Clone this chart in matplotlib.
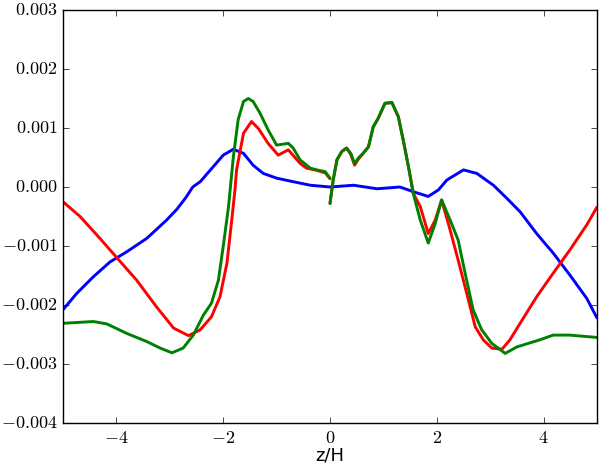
import matplotlib
matplotlib.use("Agg")
import matplotlib.pyplot as plt
from matplotlib.ticker import FuncFormatter, MultipleLocator
import numpy as np

plt.style.use('classic')
plt.rcParams['mathtext.fontset'] = 'cm'

# Values in units of 1e-3
# Blue curve
blue_x = [-5.0, -4.74, -4.43, -4.12, -3.81, -3.43, -3.06, -2.87, -2.70, -2.57, -2.43,
          -2.19, -2.0, -1.81, -1.62, -1.44, -1.25, -1.0, -0.69, -0.37, 0.0,
          0.44, 0.88, 1.31, 1.56, 1.84, 2.03, 2.19, 2.50, 2.75, 3.06, 3.31,
          3.56, 3.87, 4.18, 4.49, 4.81, 5.0]
blue_y = [-2.08, -1.80, -1.52, -1.27, -1.10, -0.87, -0.56, -0.38, -0.18, 0.0, 0.09,
          0.34, 0.54, 0.64, 0.57, 0.37, 0.23, 0.15, 0.09, 0.03, 0.0,
          0.03, -0.03, 0.0, -0.08, -0.16, -0.05, 0.12, 0.29, 0.23, 0.03, -0.19,
          -0.42, -0.79, -1.12, -1.49, -1.89, -2.22]

# Red curve (left and right of z=0)
red_xl = [-5.0, -4.68, -4.31, -3.99, -3.62, -3.25, -2.93, -2.65, -2.43, -2.22,
          -2.06, -1.93, -1.84, -1.78, -1.75, -1.62, -1.47, -1.34, -1.16, -0.97,
          -0.78, -0.56, -0.44, -0.28, -0.09, 0.0]
red_yl = [-0.25, -0.50, -0.87, -1.20, -1.58, -2.03, -2.39, -2.52, -2.42, -2.20,
          -1.86, -1.29, -0.56, -0.05, 0.29, 0.91, 1.11, 0.99, 0.74, 0.54,
          0.63, 0.40, 0.32, 0.29, 0.24, 0.14]
red_xr = [0.0, 0.06, 0.13, 0.22, 0.31, 0.39, 0.46, 0.53, 0.62, 0.72, 0.81, 0.90,
          1.03, 1.16, 1.28, 1.37, 1.47, 1.56, 1.69, 1.84, 1.97, 2.09, 2.25, 2.40,
          2.56, 2.72, 2.87, 3.03, 3.22, 3.37, 3.56, 3.87, 4.18, 4.49, 4.81, 5.0]
red_yr = [-0.28, 0.12, 0.46, 0.60, 0.66, 0.55, 0.37, 0.47, 0.57, 0.68, 1.02, 1.16,
          1.42, 1.43, 1.19, 0.80, 0.34, -0.11, -0.33, -0.79, -0.56, -0.22, -0.73, -1.24,
          -1.80, -2.37, -2.59, -2.73, -2.75, -2.59, -2.31, -1.86, -1.46, -1.07, -0.64, -0.34]

# Green curve (left and right of z=0)
green_xl = [-5.0, -4.43, -4.18, -3.81, -3.43, -3.18, -2.96, -2.75, -2.56, -2.37,
            -2.22, -2.09, -2.0, -1.90, -1.81, -1.72, -1.62, -1.53, -1.44, -1.31,
            -1.16, -1.0, -0.78, -0.69, -0.56, -0.37, -0.25, -0.09, 0.0]
green_yl = [-2.31, -2.28, -2.32, -2.48, -2.62, -2.73, -2.81, -2.73, -2.51, -2.17,
            -1.97, -1.58, -1.01, -0.33, 0.51, 1.14, 1.45, 1.50, 1.45, 1.25,
            0.97, 0.71, 0.74, 0.66, 0.46, 0.32, 0.29, 0.26, 0.15]
green_xr = [0.0, 0.06, 0.13, 0.22, 0.31, 0.39, 0.46, 0.53, 0.62, 0.72, 0.81, 0.90,
            1.03, 1.16, 1.28, 1.37, 1.47, 1.56, 1.69, 1.84, 1.97, 2.09, 2.25, 2.40,
            2.53, 2.68, 2.84, 3.03, 3.28, 3.50, 3.75, 3.93, 4.18, 4.49, 5.0]
green_yr = [-0.28, 0.12, 0.46, 0.60, 0.66, 0.57, 0.40, 0.49, 0.57, 0.68, 1.02, 1.16,
            1.42, 1.43, 1.19, 0.80, 0.34, -0.11, -0.56, -0.95, -0.62, -0.22, -0.56, -0.90,
            -1.46, -2.08, -2.42, -2.65, -2.82, -2.71, -2.64, -2.59, -2.51, -2.51, -2.55]

fig = plt.figure(figsize=(6.0, 4.65), dpi=100)
fig.patch.set_facecolor('white')
ax = fig.add_axes([0.105, 0.0903, 0.89, 0.8882])

def arr(v):
    return np.asarray(v, dtype=float) * 1e-3

style = dict(lw=2.1, solid_joinstyle='round', solid_capstyle='round')
ax.plot(blue_x, arr(blue_y), color='b', **style)
ax.plot(red_xl, arr(red_yl), color='r', **style)
ax.plot(red_xr, arr(red_yr), color='r', **style)
ax.plot(green_xl, arr(green_yl), color='g', **style)
ax.plot(green_xr, arr(green_yr), color='g', **style)

ax.set_xlim(-5, 5)
ax.set_ylim(-0.004, 0.003)
ax.xaxis.set_major_locator(MultipleLocator(2))
ax.yaxis.set_major_locator(MultipleLocator(0.001))
ax.xaxis.set_major_formatter(FuncFormatter(lambda v, p: r'$%d$' % round(v)))
ax.yaxis.set_major_formatter(FuncFormatter(lambda v, p: r'$%.3f$' % (0.0 if abs(v) < 1e-12 else v)))
ax.tick_params(labelsize=13)
ax.set_xlabel('z/H', fontsize=13, family='DejaVu Sans')
ax.xaxis.set_label_coords(0.5, -0.058)

fig.savefig('out.png', dpi=100, facecolor='white')
